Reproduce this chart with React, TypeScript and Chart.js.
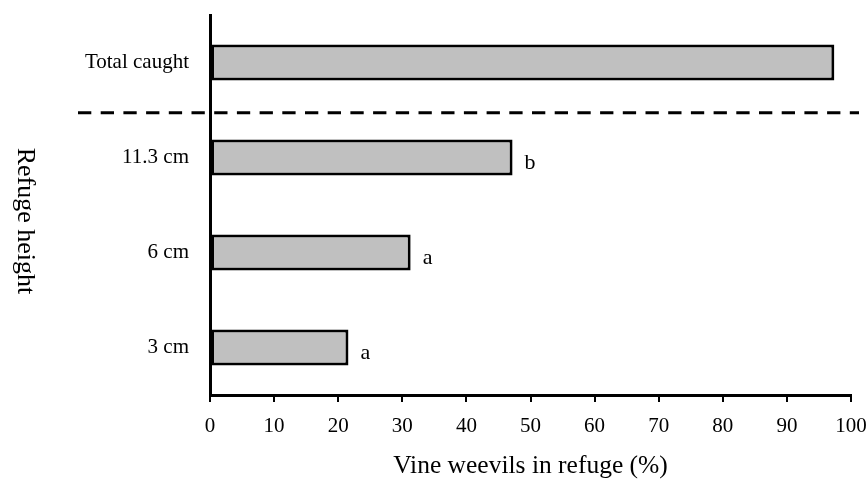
import React, { useEffect, useRef } from "react";
import { Chart, registerables } from "chart.js";

Chart.register(...registerables);

const categories = ["Total caught", "11.3 cm", "6 cm", "3 cm"];
const values = [97.4, 47.2, 31.3, 21.6];
const letters = ["", "b", "a", "a"];
const xTicks = [0, 10, 20, 30, 40, 50, 60, 70, 80, 90, 100];
const xTitle = "Vine weevils in refuge (%)";
const yTitle = "Refuge height";

const FONT = "'Liberation Serif', 'DejaVu Serif', serif";

const extrasPlugin = {
  id: "extras",
  afterDatasetsDraw(chart: any) {
    const { ctx, chartArea } = chart;
    const meta = chart.getDatasetMeta(0);
    const yScale = chart.scales.y;
    ctx.save();
    // significance letters
    ctx.fillStyle = "#000";
    ctx.font = `22px ${FONT}`;
    ctx.textAlign = "left";
    ctx.textBaseline = "middle";
    meta.data.forEach((bar: any, i: number) => {
      if (letters[i]) ctx.fillText(letters[i], bar.x + 12, bar.y + 6);
    });
    // dashed separator
    const yDash = yScale.getPixelForValue(0.53);
    ctx.strokeStyle = "#000";
    ctx.lineWidth = 3;
    ctx.setLineDash([13.3, 9.4]);
    ctx.beginPath();
    ctx.moveTo(chartArea.left - 132, yDash);
    ctx.lineTo(chartArea.right + 8, yDash);
    ctx.stroke();
    ctx.setLineDash([]);
    // rotated y title (reads top to bottom)
    ctx.save();
    ctx.translate(chartArea.left - 185, (chartArea.top + chartArea.bottom) / 2 + 16);
    ctx.rotate(Math.PI / 2);
    ctx.font = `26px ${FONT}`;
    ctx.textAlign = "center";
    ctx.textBaseline = "middle";
    ctx.fillText(yTitle, 0, 0);
    ctx.restore();
    ctx.restore();
  },
};

export default function App() {
  const ref = useRef<HTMLCanvasElement>(null);
  useEffect(() => {
    if (!ref.current) return;
    const chart = new Chart(ref.current, {
      type: "bar",
      data: {
        labels: categories,
        datasets: [
          {
            data: values,
            backgroundColor: "#c0c0c0",
            borderColor: "#000",
            borderWidth: 3,
            borderSkipped: false,
            categoryPercentage: 1,
            barPercentage: 0.38,
          },
        ],
      },
      options: {
        indexAxis: "y",
        animation: false,
        responsive: false,
        devicePixelRatio: 1,
        layout: { padding: { top: 15, right: 16, left: 0, bottom: 0 } },
        plugins: { legend: { display: false }, tooltip: { enabled: false } },
        scales: {
          x: {
            type: "linear",
            min: 0,
            max: 100,
            afterBuildTicks: (s: any) => {
              s.ticks = xTicks.map((v) => ({ value: v }));
            },
            afterFit: (s: any) => {
              s.height = 87;
              s.paddingLeft = 0;
              s.paddingRight = 0;
            },
            border: { display: true, color: "#000", width: 3 },
            grid: {
              display: true,
              drawOnChartArea: false,
              drawTicks: true,
              tickLength: 7,
              color: "#000",
              lineWidth: 2,
            },
            ticks: {
              color: "#000",
              padding: 12,
              font: { family: FONT, size: 21 },
              maxRotation: 0,
            },
            title: {
              display: true,
              text: xTitle,
              color: "#000",
              padding: { top: 0, bottom: 0 },
              font: { family: FONT, size: 25.5 },
            },
          },
          y: {
            type: "category",
            afterFit: (s: any) => {
              s.width = 210;
              s.paddingTop = 0;
              s.paddingBottom = 0;
            },
            border: { display: true, color: "#000", width: 3 },
            grid: { display: true, drawOnChartArea: false, drawTicks: false },
            ticks: {
              color: "#000",
              padding: 21,
              font: { family: FONT, size: 21 },
            },
          },
        },
      },
      plugins: [extrasPlugin],
    });
    return () => chart.destroy();
  }, []);
  return (
    <div style={{ position: "absolute", left: 0, top: 0, width: 867, height: 482, background: "#fff" }}>
      <canvas ref={ref} width={867} height={482} style={{ width: 867, height: 482 }} />
    </div>
  );
}
